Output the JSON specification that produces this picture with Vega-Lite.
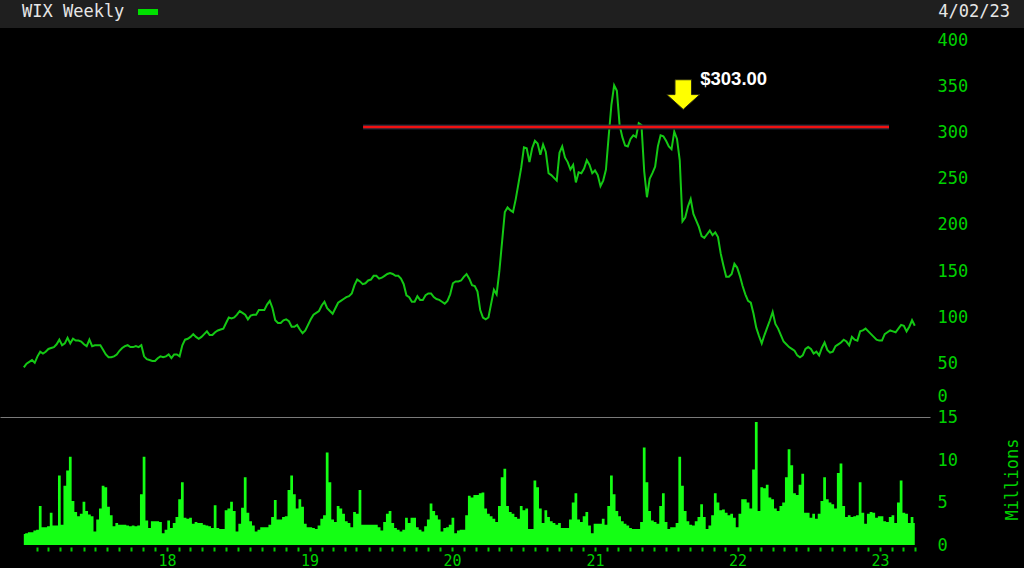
{
"$schema": "https://vega.github.io/schema/vega-lite/v6.json",
"background": "#000000",
"padding": 0,
"spacing": 0,
"bounds": "flush",
"config": {"view": {"stroke": null}, "axis": {"labelFont": "DejaVu Sans Mono", "titleFont": "DejaVu Sans Mono", "grid": false}},
"resolve": {"scale": {"x": "independent", "y": "independent"}},
"datasets": {
"lvl": [{"s": "2019-05-18", "e": "2023-01-24", "p": 306}],
"arw": [{"d": "2021-08-15", "p": 341, "lbl": "$303.00"}],
"wk": [
{"d":"2016-12-30","p":46,"v":1.3},
{"d":"2017-01-06","p":50,"v":1.4},{"d":"2017-01-13","p":52,"v":1.5},{"d":"2017-01-20","p":54,"v":1.5},{"d":"2017-01-27","p":51,"v":1.7},
{"d":"2017-02-03","p":58,"v":1.8},{"d":"2017-02-10","p":63,"v":4.6},{"d":"2017-02-17","p":61,"v":2.1},{"d":"2017-02-24","p":63,"v":2.1},
{"d":"2017-03-03","p":66,"v":2.2},{"d":"2017-03-10","p":67,"v":3.8},{"d":"2017-03-17","p":68,"v":2.3},{"d":"2017-03-24","p":71,"v":2.3},{"d":"2017-03-31","p":76,"v":8.2},
{"d":"2017-04-07","p":70,"v":2.4},{"d":"2017-04-14","p":72,"v":7.0},{"d":"2017-04-21","p":78,"v":8.8},{"d":"2017-04-28","p":72,"v":10.4},
{"d":"2017-05-05","p":77,"v":5.2},{"d":"2017-05-12","p":75,"v":3.9},{"d":"2017-05-19","p":75,"v":3.4},{"d":"2017-05-26","p":74,"v":3.7},
{"d":"2017-06-02","p":71,"v":5.1},{"d":"2017-06-09","p":69,"v":4.0},{"d":"2017-06-16","p":76,"v":3.6},{"d":"2017-06-23","p":69,"v":3.4},{"d":"2017-06-30","p":70,"v":1.6},
{"d":"2017-07-07","p":70,"v":3.0},{"d":"2017-07-14","p":70,"v":4.3},{"d":"2017-07-21","p":65,"v":7.0},{"d":"2017-07-28","p":60,"v":6.8},
{"d":"2017-08-04","p":57,"v":4.5},{"d":"2017-08-11","p":57,"v":3.5},{"d":"2017-08-18","p":58,"v":2.2},{"d":"2017-08-25","p":60,"v":2.6},
{"d":"2017-09-01","p":64,"v":2.4},{"d":"2017-09-08","p":67,"v":2.4},{"d":"2017-09-15","p":69,"v":2.4},{"d":"2017-09-22","p":70,"v":2.3},{"d":"2017-09-29","p":68,"v":2.2},
{"d":"2017-10-06","p":68,"v":2.3},{"d":"2017-10-13","p":69,"v":2.2},{"d":"2017-10-20","p":68,"v":2.3},{"d":"2017-10-27","p":70,"v":6.0},
{"d":"2017-11-03","p":58,"v":10.4},{"d":"2017-11-10","p":55,"v":2.9},{"d":"2017-11-17","p":54,"v":2.0},{"d":"2017-11-24","p":53,"v":2.8},
{"d":"2017-12-01","p":53,"v":2.8},{"d":"2017-12-08","p":56,"v":2.8},{"d":"2017-12-15","p":58,"v":2.7},{"d":"2017-12-22","p":57,"v":1.4},{"d":"2017-12-29","p":58,"v":1.8},
{"d":"2018-01-05","p":60,"v":2.9},{"d":"2018-01-12","p":56,"v":2.0},{"d":"2018-01-19","p":60,"v":2.6},{"d":"2018-01-26","p":60,"v":3.3},
{"d":"2018-02-02","p":58,"v":5.4},{"d":"2018-02-09","p":70,"v":7.4},{"d":"2018-02-16","p":76,"v":3.2},{"d":"2018-02-23","p":77,"v":3.1},
{"d":"2018-03-02","p":79,"v":3.2},{"d":"2018-03-09","p":82,"v":2.5},{"d":"2018-03-16","p":79,"v":2.7},{"d":"2018-03-23","p":77,"v":2.6},{"d":"2018-03-30","p":79,"v":2.6},
{"d":"2018-04-06","p":82,"v":2.4},{"d":"2018-04-13","p":85,"v":2.3},{"d":"2018-04-20","p":81,"v":2.2},{"d":"2018-04-27","p":81,"v":2.0},
{"d":"2018-05-04","p":84,"v":4.7},{"d":"2018-05-11","p":86,"v":2.0},{"d":"2018-05-18","p":87,"v":1.9},{"d":"2018-05-25","p":88,"v":1.9},
{"d":"2018-06-01","p":94,"v":4.1},{"d":"2018-06-08","p":100,"v":4.3},{"d":"2018-06-15","p":99,"v":5.1},{"d":"2018-06-22","p":100,"v":4.0},{"d":"2018-06-29","p":103,"v":1.6},
{"d":"2018-07-06","p":107,"v":2.5},{"d":"2018-07-13","p":105,"v":4.4},{"d":"2018-07-20","p":103,"v":8.0},{"d":"2018-07-27","p":98,"v":3.8},
{"d":"2018-08-03","p":102,"v":2.8},{"d":"2018-08-10","p":103,"v":2.3},{"d":"2018-08-17","p":103,"v":1.6},{"d":"2018-08-24","p":108,"v":1.8},{"d":"2018-08-31","p":108,"v":2.1},
{"d":"2018-09-07","p":108,"v":2.1},{"d":"2018-09-14","p":114,"v":2.1},{"d":"2018-09-21","p":118,"v":2.4},{"d":"2018-09-28","p":110,"v":3.3},
{"d":"2018-10-05","p":97,"v":5.3},{"d":"2018-10-12","p":94,"v":3.0},{"d":"2018-10-19","p":94,"v":3.0},{"d":"2018-10-26","p":97,"v":3.3},
{"d":"2018-11-02","p":98,"v":3.4},{"d":"2018-11-09","p":96,"v":6.5},{"d":"2018-11-16","p":90,"v":8.2},{"d":"2018-11-23","p":90,"v":6.0},{"d":"2018-11-30","p":92,"v":4.3},
{"d":"2018-12-07","p":87,"v":5.4},{"d":"2018-12-14","p":83,"v":4.5},{"d":"2018-12-21","p":86,"v":2.5},{"d":"2018-12-28","p":92,"v":2.1},
{"d":"2019-01-04","p":98,"v":2.1},{"d":"2019-01-11","p":103,"v":2.0},{"d":"2019-01-18","p":105,"v":1.9},{"d":"2019-01-25","p":107,"v":2.3},
{"d":"2019-02-01","p":113,"v":3.1},{"d":"2019-02-08","p":117,"v":3.5},{"d":"2019-02-15","p":110,"v":10.9},{"d":"2019-02-22","p":107,"v":7.4},
{"d":"2019-03-01","p":104,"v":3.0},{"d":"2019-03-08","p":110,"v":2.7},{"d":"2019-03-15","p":116,"v":4.6},{"d":"2019-03-22","p":118,"v":4.3},{"d":"2019-03-29","p":120,"v":3.7},
{"d":"2019-04-05","p":122,"v":2.8},{"d":"2019-04-12","p":123,"v":2.6},{"d":"2019-04-19","p":126,"v":2.1},{"d":"2019-04-26","p":135,"v":3.9},
{"d":"2019-05-03","p":141,"v":3.7},{"d":"2019-05-10","p":139,"v":6.5},{"d":"2019-05-17","p":136,"v":2.4},{"d":"2019-05-24","p":137,"v":2.4},{"d":"2019-05-31","p":140,"v":2.4},
{"d":"2019-06-07","p":141,"v":2.4},{"d":"2019-06-14","p":145,"v":2.4},{"d":"2019-06-21","p":145,"v":2.4},{"d":"2019-06-28","p":142,"v":2.1},
{"d":"2019-07-05","p":143,"v":1.7},{"d":"2019-07-12","p":145,"v":2.7},{"d":"2019-07-19","p":147,"v":3.7},{"d":"2019-07-26","p":148,"v":4.0},
{"d":"2019-08-02","p":147,"v":2.6},{"d":"2019-08-09","p":145,"v":2.0},{"d":"2019-08-16","p":145,"v":1.8},{"d":"2019-08-23","p":142,"v":1.6},{"d":"2019-08-30","p":136,"v":1.8},
{"d":"2019-09-06","p":124,"v":3.2},{"d":"2019-09-13","p":122,"v":2.6},{"d":"2019-09-20","p":117,"v":3.2},{"d":"2019-09-27","p":117,"v":3.2},
{"d":"2019-10-04","p":123,"v":2.1},{"d":"2019-10-11","p":119,"v":1.8},{"d":"2019-10-18","p":119,"v":1.6},{"d":"2019-10-25","p":124,"v":2.2},
{"d":"2019-11-01","p":126,"v":3.0},{"d":"2019-11-08","p":126,"v":4.9},{"d":"2019-11-15","p":122,"v":4.0},{"d":"2019-11-22","p":120,"v":3.5},{"d":"2019-11-29","p":119,"v":3.0},
{"d":"2019-12-06","p":117,"v":1.6},{"d":"2019-12-13","p":115,"v":2.0},{"d":"2019-12-20","p":118,"v":2.1},{"d":"2019-12-27","p":125,"v":2.4},
{"d":"2020-01-03","p":137,"v":3.2},{"d":"2020-01-10","p":139,"v":1.4},{"d":"2020-01-17","p":139,"v":1.7},{"d":"2020-01-24","p":140,"v":1.8},{"d":"2020-01-31","p":144,"v":1.8},
{"d":"2020-02-07","p":147,"v":3.5},{"d":"2020-02-14","p":142,"v":5.8},{"d":"2020-02-21","p":135,"v":5.6},{"d":"2020-02-28","p":134,"v":5.9},
{"d":"2020-03-06","p":128,"v":5.9},{"d":"2020-03-13","p":108,"v":6.1},{"d":"2020-03-20","p":100,"v":6.2},{"d":"2020-03-27","p":98,"v":4.3},
{"d":"2020-04-03","p":100,"v":3.7},{"d":"2020-04-10","p":115,"v":3.4},{"d":"2020-04-17","p":130,"v":3.1},{"d":"2020-04-24","p":125,"v":2.7},
{"d":"2020-05-01","p":150,"v":4.6},{"d":"2020-05-08","p":182,"v":8.0},{"d":"2020-05-15","p":214,"v":9.0},{"d":"2020-05-22","p":219,"v":4.6},{"d":"2020-05-29","p":216,"v":3.9},
{"d":"2020-06-05","p":214,"v":3.7},{"d":"2020-06-12","p":228,"v":3.3},{"d":"2020-06-19","p":245,"v":3.1},{"d":"2020-06-26","p":262,"v":4.6},
{"d":"2020-07-03","p":284,"v":4.1},{"d":"2020-07-10","p":283,"v":4.3},{"d":"2020-07-17","p":268,"v":1.9},{"d":"2020-07-24","p":283,"v":1.9},{"d":"2020-07-31","p":291,"v":7.6},
{"d":"2020-08-07","p":288,"v":6.8},{"d":"2020-08-14","p":276,"v":4.3},{"d":"2020-08-21","p":287,"v":2.6},{"d":"2020-08-28","p":279,"v":4.1},
{"d":"2020-09-04","p":256,"v":3.3},{"d":"2020-09-11","p":254,"v":2.8},{"d":"2020-09-18","p":251,"v":2.6},{"d":"2020-09-25","p":248,"v":2.4},
{"d":"2020-10-02","p":278,"v":2.6},{"d":"2020-10-09","p":285,"v":2.0},{"d":"2020-10-16","p":273,"v":2.0},{"d":"2020-10-23","p":268,"v":2.0},{"d":"2020-10-30","p":260,"v":3.0},
{"d":"2020-11-06","p":265,"v":5.0},{"d":"2020-11-13","p":246,"v":6.1},{"d":"2020-11-20","p":257,"v":3.0},{"d":"2020-11-27","p":256,"v":2.7},
{"d":"2020-12-04","p":261,"v":3.4},{"d":"2020-12-11","p":270,"v":3.9},{"d":"2020-12-18","p":265,"v":2.3},{"d":"2020-12-25","p":256,"v":1.4},
{"d":"2021-01-01","p":259,"v":2.5},{"d":"2021-01-08","p":254,"v":2.5},{"d":"2021-01-15","p":242,"v":2.5},{"d":"2021-01-22","p":248,"v":3.1},{"d":"2021-01-29","p":260,"v":2.4},
{"d":"2021-02-05","p":296,"v":4.6},{"d":"2021-02-12","p":330,"v":8.2},{"d":"2021-02-19","p":351,"v":6.0},{"d":"2021-02-26","p":345,"v":4.0},
{"d":"2021-03-05","p":308,"v":3.4},{"d":"2021-03-12","p":295,"v":2.8},{"d":"2021-03-19","p":286,"v":2.5},{"d":"2021-03-26","p":285,"v":2.3},
{"d":"2021-04-02","p":293,"v":2.0},{"d":"2021-04-09","p":297,"v":1.9},{"d":"2021-04-16","p":295,"v":1.9},{"d":"2021-04-23","p":310,"v":1.9},{"d":"2021-04-30","p":308,"v":2.7},
{"d":"2021-05-07","p":258,"v":11.5},{"d":"2021-05-14","p":230,"v":7.4},{"d":"2021-05-21","p":250,"v":4.0},{"d":"2021-05-28","p":256,"v":2.9},
{"d":"2021-06-04","p":263,"v":2.7},{"d":"2021-06-11","p":285,"v":2.5},{"d":"2021-06-18","p":297,"v":4.6},{"d":"2021-06-25","p":296,"v":6.1},
{"d":"2021-07-02","p":291,"v":2.7},{"d":"2021-07-09","p":285,"v":1.9},{"d":"2021-07-16","p":282,"v":2.1},{"d":"2021-07-23","p":301,"v":2.1},{"d":"2021-07-30","p":293,"v":2.6},
{"d":"2021-08-06","p":270,"v":10.4},{"d":"2021-08-13","p":204,"v":7.0},{"d":"2021-08-20","p":208,"v":4.0},{"d":"2021-08-27","p":220,"v":2.8},
{"d":"2021-09-03","p":228,"v":2.4},{"d":"2021-09-10","p":212,"v":2.3},{"d":"2021-09-17","p":205,"v":2.8},{"d":"2021-09-24","p":198,"v":3.3},
{"d":"2021-10-01","p":188,"v":4.8},{"d":"2021-10-08","p":186,"v":3.3},{"d":"2021-10-15","p":190,"v":1.9},{"d":"2021-10-22","p":194,"v":2.3},{"d":"2021-10-29","p":189,"v":3.5},
{"d":"2021-11-05","p":192,"v":6.1},{"d":"2021-11-12","p":187,"v":5.0},{"d":"2021-11-19","p":169,"v":4.1},{"d":"2021-11-26","p":156,"v":4.2},
{"d":"2021-12-03","p":144,"v":3.8},{"d":"2021-12-10","p":144,"v":3.5},{"d":"2021-12-17","p":147,"v":3.7},{"d":"2021-12-24","p":158,"v":3.2},{"d":"2021-12-31","p":154,"v":2.1},
{"d":"2022-01-07","p":145,"v":3.7},{"d":"2022-01-14","p":134,"v":5.4},{"d":"2022-01-21","p":125,"v":5.4},{"d":"2022-01-28","p":118,"v":5.0},
{"d":"2022-02-04","p":116,"v":4.3},{"d":"2022-02-11","p":104,"v":8.9},{"d":"2022-02-18","p":89,"v":14.5},{"d":"2022-02-25","p":80,"v":4.0},
{"d":"2022-03-04","p":72,"v":6.8},{"d":"2022-03-11","p":81,"v":6.7},{"d":"2022-03-18","p":89,"v":7.1},{"d":"2022-03-25","p":97,"v":5.6},
{"d":"2022-04-01","p":106,"v":5.4},{"d":"2022-04-08","p":93,"v":4.3},{"d":"2022-04-15","p":88,"v":4.0},{"d":"2022-04-22","p":81,"v":4.6},{"d":"2022-04-29","p":74,"v":5.0},
{"d":"2022-05-06","p":71,"v":8.0},{"d":"2022-05-13","p":68,"v":11.3},{"d":"2022-05-20","p":66,"v":9.4},{"d":"2022-05-27","p":64,"v":6.1},
{"d":"2022-06-03","p":59,"v":5.9},{"d":"2022-06-10","p":57,"v":7.1},{"d":"2022-06-17","p":59,"v":8.4},{"d":"2022-06-24","p":66,"v":3.8},
{"d":"2022-07-01","p":68,"v":3.8},{"d":"2022-07-08","p":66,"v":3.2},{"d":"2022-07-15","p":61,"v":3.7},{"d":"2022-07-22","p":63,"v":3.1},{"d":"2022-07-29","p":59,"v":3.7},
{"d":"2022-08-05","p":67,"v":5.2},{"d":"2022-08-12","p":73,"v":8.0},{"d":"2022-08-19","p":65,"v":5.4},{"d":"2022-08-26","p":62,"v":5.0},
{"d":"2022-09-02","p":63,"v":4.8},{"d":"2022-09-09","p":69,"v":4.3},{"d":"2022-09-16","p":71,"v":8.5},{"d":"2022-09-23","p":73,"v":9.6},{"d":"2022-09-30","p":76,"v":4.6},
{"d":"2022-10-07","p":74,"v":3.3},{"d":"2022-10-14","p":70,"v":3.5},{"d":"2022-10-21","p":79,"v":3.3},{"d":"2022-10-28","p":76,"v":3.4},
{"d":"2022-11-04","p":75,"v":3.5},{"d":"2022-11-11","p":85,"v":7.4},{"d":"2022-11-18","p":86,"v":3.8},{"d":"2022-11-25","p":88,"v":2.5},
{"d":"2022-12-02","p":85,"v":3.7},{"d":"2022-12-09","p":82,"v":3.9},{"d":"2022-12-16","p":79,"v":3.8},{"d":"2022-12-23","p":76,"v":3.2},{"d":"2022-12-30","p":75,"v":3.4},
{"d":"2023-01-06","p":75,"v":3.4},{"d":"2023-01-13","p":82,"v":2.8},{"d":"2023-01-20","p":84,"v":2.7},{"d":"2023-01-27","p":86,"v":3.3},
{"d":"2023-02-03","p":85,"v":3.5},{"d":"2023-02-10","p":84,"v":2.6},{"d":"2023-02-17","p":88,"v":5.0},{"d":"2023-02-24","p":92,"v":7.6},
{"d":"2023-03-03","p":91,"v":3.8},{"d":"2023-03-10","p":85,"v":3.7},{"d":"2023-03-17","p":90,"v":2.6},{"d":"2023-03-24","p":97,"v":3.3},{"d":"2023-03-31","p":91,"v":2.6}
]
},
"vconcat": [
{
"width": 1024, "height": 28,
"view": {"fill": "#1f1f1f", "stroke": null},
"data": {"values": [{"side": "left", "label": "WIX Weekly"}, {"side": "right", "label": "4/02/23"}]},
"encoding": {"x": {"field": "side", "type": "nominal", "scale": {"type": "point", "padding": 0, "domain": ["left", "right"]}, "axis": null}},
"layer": [
{"transform": [{"filter": "datum.side === 'left'"}], "mark": {"type": "text", "align": "left", "baseline": "middle", "dx": 22, "dy": -2, "font": "DejaVu Sans Mono", "fontSize": 17, "color": "#e6e6e6"}, "encoding": {"text": {"field": "label"}}},
{"transform": [{"filter": "datum.side === 'left'"}], "mark": {"type": "point", "shape": "M-1,-0.3H1V0.3H-1Z", "filled": true, "color": "#00e000", "opacity": 1, "size": 400, "xOffset": 148, "yOffset": -2}},
{"transform": [{"filter": "datum.side === 'right'"}], "mark": {"type": "text", "align": "right", "baseline": "middle", "dx": -14, "dy": -2, "font": "DejaVu Sans Mono", "fontSize": 17, "color": "#e6e6e6"}, "encoding": {"text": {"field": "label"}}}
]
},
{
"width": 930, "height": 389,
"layer": [
{"data": {"name": "wk"}, "mark": {"type": "line", "color": "#14c814", "strokeWidth": 2},
 "encoding": {
  "x": {"field": "d", "type": "temporal", "scale": {"type": "utc", "domain": [{"year": 2016, "month": 10, "date": 30, "utc": true}, {"year": 2023, "month": 5, "date": 9, "utc": true}]}, "axis": {"orient": "bottom", "labels": false, "ticks": false, "domain": true, "domainColor": "#7a7a7a", "domainWidth": 1, "title": null, "grid": false}},
  "y": {"field": "p", "type": "quantitative", "scale": {"domain": [-7.6, 413], "nice": false, "zero": false}, "axis": {"orient": "right", "values": [0, 50, 100, 150, 200, 250, 300, 350, 400], "ticks": false, "domain": false, "labelColor": "#00d000", "labelFontSize": 17, "labelPadding": 7, "labelBaseline": {"condition": {"test": "datum.value === 0", "value": "bottom"}, "value": "middle"}, "labelOffset": {"condition": {"test": "datum.value === 0", "value": -4}, "value": 0}, "title": null, "grid": false}}
 }},
{"data": {"name": "lvl"}, "mark": {"type": "rule", "color": "#1b2a3a", "strokeWidth": 5},
 "encoding": {"x": {"field": "s", "type": "temporal"}, "x2": {"field": "e"}, "y": {"field": "p", "type": "quantitative"}}},
{"data": {"name": "lvl"}, "mark": {"type": "rule", "color": "#f01010", "strokeWidth": 2.5},
 "encoding": {"x": {"field": "s", "type": "temporal"}, "x2": {"field": "e"}, "y": {"field": "p", "type": "quantitative"}}},
{"data": {"name": "arw"}, "mark": {"type": "point", "shape": "M-0.5,-0.9L0.5,-0.9L0.5,0L1,0L0,0.9L-1,0L-0.5,0Z", "filled": true, "fill": "#ffff00", "stroke": "#2a2a10", "strokeWidth": 1, "opacity": 1, "size": 1089},
 "encoding": {"x": {"field": "d", "type": "temporal"}, "y": {"field": "p", "type": "quantitative"}}},
{"data": {"name": "arw"}, "mark": {"type": "text", "align": "left", "baseline": "middle", "dx": 17, "dy": -16, "font": "Liberation Sans", "fontWeight": "bold", "fontSize": 18.5, "color": "#ffffff"},
 "encoding": {"x": {"field": "d", "type": "temporal"}, "y": {"field": "p", "type": "quantitative"}, "text": {"field": "lbl"}}}
]
},
{
"width": 930, "height": 128,
"data": {"name": "wk"},
"mark": {"type": "area", "interpolate": "step", "color": "#14ff14", "opacity": 1},
"encoding": {
 "x": {"field": "d", "type": "temporal", "scale": {"type": "utc", "domain": [{"year": 2016, "month": 10, "date": 30, "utc": true}, {"year": 2023, "month": 5, "date": 9, "utc": true}]},
  "axis": {"orient": "bottom", "tickCount": {"interval": "month", "step": 1}, "labelExpr": "(utcmonth(datum.value) === 0 && utcyear(datum.value) > 2017) ? utcFormat(datum.value, '%y') : ''", "labelOverlap": false, "labelFlush": false, "labelBound": false, "ticks": true, "tickColor": "#00d000", "tickOpacity": {"condition": {"test": "datum.value < utc(2017, 0, 15) || datum.value > utc(2023, 3, 15)", "value": 0}, "value": 1}, "tickSize": 4, "tickWidth": 2, "offset": 2, "domain": false, "labelColor": "#00d000", "labelFontSize": 15, "labelPadding": 2, "title": null, "grid": false}},
 "y": {"field": "v", "type": "quantitative", "scale": {"domain": [0, 15.1], "nice": false}, "axis": {"orient": "right", "values": [0, 5, 10, 15], "ticks": false, "domain": false, "labelColor": "#00d000", "labelFontSize": 17, "labelPadding": 7, "title": "Millions", "titleColor": "#00d000", "titleFontSize": 17, "titleFontWeight": "normal", "titleAngle": 270, "titleX": 82, "titleY": 62, "titleAlign": "center", "titleBaseline": "middle", "grid": false}}
}
}
]
}
